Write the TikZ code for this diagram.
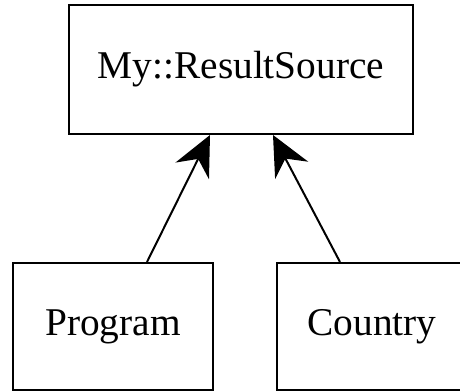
\documentclass[tikz,border=0pt]{standalone}
\usepackage{fontspec}
\setmainfont{Liberation Serif}
\usetikzlibrary{arrows.meta,calc}
\tikzset{
  cls/.style={draw,rectangle,line width=1.5pt,inner sep=0pt,
    font=\fontsize{29.5}{35}\selectfont},
}
\begin{document}
\begin{tikzpicture}[x=0.75pt,y=-0.75pt,>={Stealth[length=30pt,width=28pt,inset=10pt]}]
  % page
  \clip (0,0) rectangle (460,392);
  % base class
  \node[cls,minimum width=258pt,minimum height=96.75pt] (rs) at (241,69.5) {My::ResultSource};
  % subclasses
  \node[cls,minimum width=150pt,minimum height=95.25pt] (prog) at (113,326.5) {Program};
  \node[cls,minimum width=142.5pt,minimum height=95.25pt] (ctry) at (372,326.5) {Country};
  % inheritance
  \draw[->,line width=1.5pt] ($(prog.north)+(34,0)$) -- ($(rs.south)+(-31,0)$);
  \draw[->,line width=1.5pt] ($(ctry.north)+(-32,0)$) -- ($(rs.south)+(32,0)$);
\end{tikzpicture}
\end{document}
